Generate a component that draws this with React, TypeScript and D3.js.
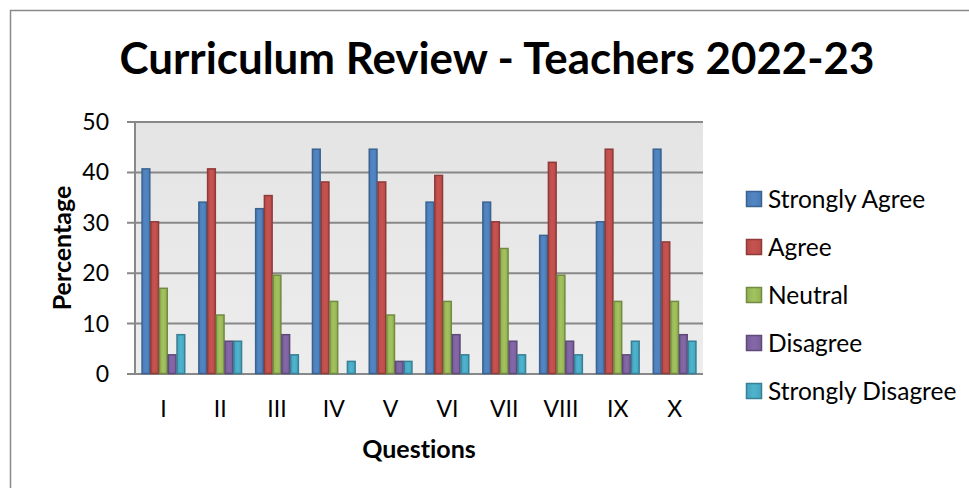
import React from "react";
import * as d3 from "d3";

const categories = ["I", "II", "III", "IV", "V", "VI", "VII", "VIII", "IX", "X"];
const seriesNames = ["Strongly Agree", "Agree", "Neutral", "Disagree", "Strongly Disagree"];
const stronglyAgree = [40.8, 34.2, 32.9, 44.7, 44.7, 34.2, 34.2, 27.6, 30.3, 44.7];
const agree = [30.3, 40.8, 35.5, 38.2, 38.2, 39.5, 30.3, 42.1, 44.7, 26.3];
const neutral = [17.1, 11.8, 19.7, 14.5, 11.8, 14.5, 25.0, 19.7, 14.5, 14.5];
const disagree = [3.9, 6.6, 7.9, 0, 2.6, 7.9, 6.6, 6.6, 3.9, 7.9];
const stronglyDisagree = [7.9, 6.6, 3.9, 2.6, 2.6, 3.9, 3.9, 3.9, 6.6, 6.6];
const yTicks = [0, 10, 20, 30, 40, 50];

const seriesValues = [stronglyAgree, agree, neutral, disagree, stronglyDisagree];
const fills = ["#4F81BD", "#C0504D", "#9BBB59", "#8064A2", "#4BACC6"];
const strokes = ["#3A6391", "#8E3B39", "#728A42", "#5E4A78", "#378095"];

const W = 969;
const H = 488;
const plotL = 135;
const plotR = 703;
const plotT = 122;
const plotB = 374;
const FONT = "Lato, 'Open Sans', sans-serif";
const noLig = { fontVariantLigatures: "none" as const };

export default function App() {
  const pi = 1.5 / 6.5;
  const x0 = d3
    .scaleBand<string>()
    .domain(categories)
    .range([plotL, plotR])
    .paddingInner(pi)
    .paddingOuter(pi / 2);
  const x1 = d3
    .scaleBand<string>()
    .domain(seriesNames)
    .range([0, x0.bandwidth()])
    .padding(0);
  const y = d3.scaleLinear().domain([0, 50]).range([plotB, plotT]);

  return (
    <svg
      width={W}
      height={H}
      style={{ position: "absolute", left: 0, top: 0, background: "#fff" }}
    >
      <defs>
        <linearGradient id="bg" x1="0" y1="0" x2="0" y2="1">
          <stop offset="0" stopColor="#E4E4E4" />
          <stop offset="1" stopColor="#EDEDED" />
        </linearGradient>
        {fills.map((c, i) => (
          <linearGradient key={i} id={`g${i}`} x1="0" y1="0" x2="1" y2="0">
            <stop offset="0" stopColor={d3.color(c)!.darker(0.15).toString()} />
            <stop offset="0.5" stopColor={d3.color(c)!.brighter(0.12).toString()} />
            <stop offset="1" stopColor={d3.color(c)!.darker(0.15).toString()} />
          </linearGradient>
        ))}
      </defs>
      <rect x={10.5} y={10.5} width={1200} height={1200} fill="#fff" stroke="#8A8A8A" strokeWidth={1.5} />
      <text
        x={497}
        y={74}
        textAnchor="middle"
        fontFamily={FONT}
        fontWeight="bold"
        fontSize={44}
        textLength={755}
        lengthAdjust="spacingAndGlyphs"
        fill="#000"
        style={noLig}
      >
        Curriculum Review - Teachers 2022-23
      </text>

      <rect x={plotL} y={plotT} width={plotR - plotL} height={plotB - plotT} fill="url(#bg)" />
      {yTicks.map((t) => (
        <g key={t}>
          <line x1={plotL - 8} x2={plotR} y1={y(t)} y2={y(t)} stroke="#888888" strokeWidth={2} />
          <text
            x={109}
            y={y(t)}
            dy="0.35em"
            textAnchor="end"
            fontFamily={FONT}
            fontSize={23}
            fill="#000"
          >
            {t}
          </text>
        </g>
      ))}
      <line x1={plotL} x2={plotL} y1={plotT} y2={plotB} stroke="#888888" strokeWidth={2} />

      {categories.map((cat, ci) => (
        <g key={cat}>
          {seriesNames.map((s, si) => {
            const v = seriesValues[si][ci];
            if (!v) return null;
            const bx = (x0(cat) as number) + (x1(s) as number);
            const by = y(v);
            return (
              <rect
                key={s}
                x={bx + 0.5}
                y={by + 0.5}
                width={x1.bandwidth() - 1}
                height={plotB - by - 1}
                fill={`url(#g${si})`}
                stroke={strokes[si]}
                strokeWidth={1.5}
              />
            );
          })}
          <text
            x={(x0(cat) as number) + x0.bandwidth() / 2}
            y={409}
            dy="0.35em"
            textAnchor="middle"
            fontFamily={FONT}
            fontSize={23}
            fill="#000"
          >
            {cat}
          </text>
        </g>
      ))}

      <text
        x={(plotL + plotR) / 2}
        y={458}
        textAnchor="middle"
        fontFamily={FONT}
        fontWeight="bold"
        fontSize={25}
        fill="#000"
        style={noLig}
      >
        Questions
      </text>
      <text
        transform={`translate(71, ${(plotT + plotB) / 2}) rotate(-90)`}
        textAnchor="middle"
        fontFamily={FONT}
        fontWeight="bold"
        fontSize={25}
        fill="#000"
        style={noLig}
      >
        Percentage
      </text>

      {seriesNames.map((s, i) => {
        const cy = 199 + i * 48;
        return (
          <g key={s}>
            <rect
              x={746.5}
              y={cy - 7.5}
              width={15}
              height={15}
              fill={`url(#g${i})`}
              stroke={strokes[i]}
              strokeWidth={1.5}
            />
            <text x={768} y={cy} dy="0.35em" fontFamily={FONT} fontSize={24.5} fill="#000" style={noLig}>
              {s}
            </text>
          </g>
        );
      })}
    </svg>
  );
}
